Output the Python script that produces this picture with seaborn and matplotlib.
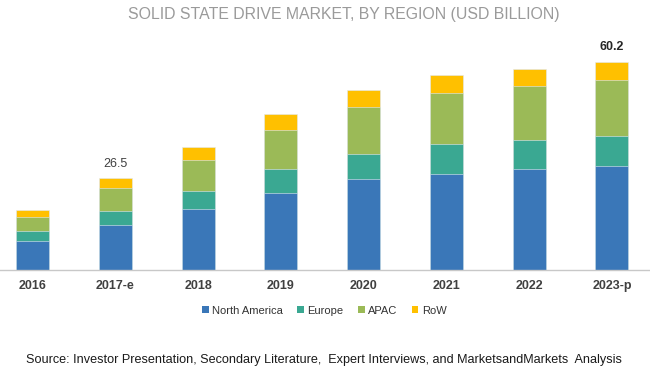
import matplotlib
matplotlib.use("Agg")
import matplotlib.pyplot as plt
from matplotlib.patches import Patch
import seaborn as sns
import pandas as pd
import numpy as np

# data (USD billion)
years = ["2016", "2017-e", "2018", "2019", "2020", "2021", "2022", "2023-p"]
north_america = [8.5, 12.9, 17.6, 22.4, 26.2, 27.9, 29.1, 30.0]
europe = [2.8, 4.2, 5.3, 6.9, 7.5, 8.6, 8.5, 8.7]
apac = [4.1, 6.5, 8.8, 11.3, 13.5, 14.6, 15.7, 16.3]
row = [2.0, 2.9, 3.8, 4.4, 5.0, 5.2, 5.0, 5.2]
regions = ["North America", "Europe", "APAC", "RoW"]
colors = ["#3A77B8", "#3AA892", "#9BBA57", "#FFC000"]

sns.set_style("white")
plt.rcParams["font.family"] = ["Liberation Sans", "DejaVu Sans"]

df = pd.DataFrame({"year": years, "North America": north_america,
                   "Europe": europe, "APAC": apac, "RoW": row})
cum = df[regions].cumsum(axis=1)

fig = plt.figure(figsize=(6.5, 3.81), dpi=100)
ax = fig.add_axes([0.0, 0.2913, 1.0, 0.635])

# stack by drawing cumulative heights, top layer first
for reg, col in reversed(list(zip(regions, colors))):
    sns.barplot(x=df["year"], y=cum[reg], color=col, width=0.4,
                edgecolor="#dfe9f3", linewidth=0.4, ax=ax, saturation=1)

ax.set_xlim(-0.395, 7.46)
ax.set_ylim(0, 70)
ax.set_xlabel("")
ax.set_ylabel("")
ax.set_yticks([])
for s in ["top", "left", "right"]:
    ax.spines[s].set_visible(False)
ax.spines["bottom"].set_color("#c8c8c8")
ax.spines["bottom"].set_linewidth(1)
ax.tick_params(axis="x", length=0, pad=7)
for lbl in ax.get_xticklabels():
    lbl.set_fontsize(9)
    lbl.set_fontweight("bold")
    lbl.set_color("#404040")

totals = cum["RoW"]
ax.text(1, totals[1] + 2.5, "26.5", ha="center", va="bottom",
        fontsize=9, color="#404040")
ax.text(7, totals[7] + 2.5, "60.2", ha="center", va="bottom",
        fontsize=9, fontweight="bold", color="#262626")

fig.text(0.529, 0.963, "SOLID STATE DRIVE MARKET, BY REGION (USD BILLION)",
         ha="center", va="center", fontsize=11.4, color="#9a9a9a")

handles = [Patch(facecolor=c, edgecolor="none") for c in colors]
fig.legend(handles, regions, loc="center", bbox_to_anchor=(0.499, 0.185),
           ncol=4, frameon=False, handlelength=0.6,
           handleheight=0.6, handletextpad=0.3, columnspacing=1.3,
           prop={"size": 8}, labelcolor="#333333")

fig.text(0.498, 0.055, "Source: Investor Presentation, Secondary Literature,  Expert Interviews, and MarketsandMarkets  Analysis",
         ha="center", va="center", fontsize=9.05, color="#1a1a1a")

fig.savefig("out.png", dpi=100)
